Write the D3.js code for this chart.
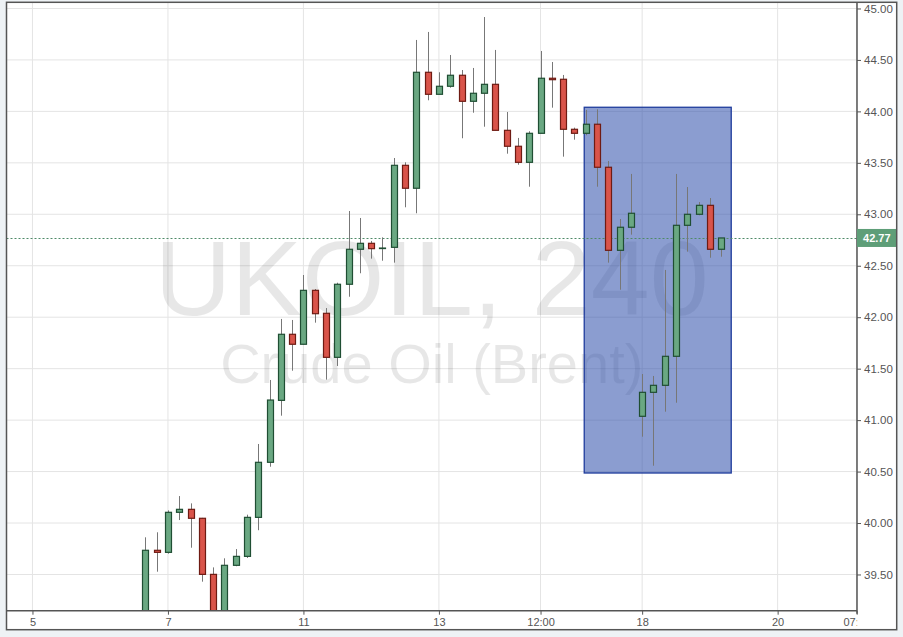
<!DOCTYPE html>
<html><head><meta charset="utf-8">
<script src="https://cdn.jsdelivr.net/npm/d3@7/dist/d3.min.js"></script>
<style>html,body{margin:0;padding:0;background:#eef2f5;}svg{display:block;font-family:"Liberation Sans",Arial,sans-serif;}</style>
</head><body><svg id="c" width="903" height="637"></svg>
<script>
// ---- data ----
const opens  = [39.00,39.735,39.715,40.104,40.133,40.046,39.501,39.05,39.589,39.676,40.055,40.590,41.192,41.834,41.737,42.261,42.038,41.610,42.320,42.660,42.718,42.672,42.679,43.476,43.253,44.380,44.166,44.244,44.351,44.098,44.176,44.263,43.816,43.661,43.505,43.787,44.322,44.312,43.826,43.787,43.875,43.457,42.650,42.874,41.037,41.270,41.338,41.620,42.893,43.000,43.087,42.660];
const highs  = [39.861,39.910,40.123,40.262,40.191,40.05,39.569,39.657,39.747,40.081,40.768,41.390,41.983,41.973,42.410,42.274,42.089,42.335,43.032,42.964,42.741,42.776,43.547,43.505,44.694,44.772,44.380,44.548,44.402,44.422,44.917,44.597,43.994,43.742,43.807,44.587,44.480,44.354,43.842,44.014,44.020,43.518,42.954,43.392,41.448,41.429,42.459,43.392,43.265,43.119,43.158,42.77];
const lows   = [38.95,39.527,39.702,40.029,39.760,39.430,38.9,39.0,39.58,39.66,39.93,40.547,41.043,41.480,41.737,41.947,41.393,41.526,42.199,42.427,42.569,42.549,42.530,43.068,43.010,44.108,44.166,44.230,43.739,43.987,43.851,43.816,43.589,43.482,43.268,43.787,44.036,43.560,43.725,43.768,43.268,42.530,42.267,42.802,40.839,40.557,41.082,41.169,42.637,42.990,42.578,42.588];
const closes = [39.735,39.715,40.104,40.133,40.046,39.501,39.00,39.589,39.676,40.055,40.590,41.195,41.834,41.737,42.261,42.034,41.610,42.320,42.660,42.718,42.666,42.672,43.476,43.253,44.380,44.166,44.244,44.351,44.098,44.176,44.263,43.816,43.661,43.505,43.787,44.322,44.308,43.826,43.787,43.875,43.457,42.650,42.874,43.010,41.270,41.338,41.620,42.893,43.000,43.087,42.660,42.77];
const xTickLabels = ["5","7","11","13","12:00","18","20","07:00"];
const xTickAt     = [-10, 2, 14, 26, 35, 44, 56, 63];   // candle slot of each label
const yTicks = [39.5,40,40.5,41,41.5,42,42.5,43,43.5,44,44.5,45];
const lastPrice = 42.77;
const boxX = [38.87, 51.89];      // highlighted zone, candle slots
const boxY = [40.486, 44.04];     // highlighted zone, prices
const title1 = "UKOIL, 240", title2 = "Crude Oil (Brent)";

// ---- layout ----
const L = 6.5, R = 857, T = 2.3, B = 610.7, FR = 896.7, FB = 629.7;
const svg = d3.select("#c");
const x = d3.scaleLinear().domain([-12.3, 63.03]).range([L, R]);
const y = d3.scaleLinear().domain([39.148, 45.06]).range([B, T]);
const step = x(1) - x(0);

svg.append("rect").attr("x",0).attr("y",0).attr("width",903).attr("height",637).attr("fill","#eef2f5");
svg.append("rect").attr("x",L).attr("y",T).attr("width",FR-L).attr("height",FB-T).attr("fill","#fff");

const defs = svg.append("defs");
defs.append("clipPath").attr("id","plot").append("rect").attr("x",L).attr("y",T).attr("width",R-L).attr("height",B-T);
defs.append("clipPath").attr("id","xlab").append("rect").attr("x",0).attr("y",B).attr("width",R).attr("height",30);

const g = svg.append("g").attr("clip-path","url(#plot)");
// grid
g.selectAll(".hg").data(yTicks).join("line").attr("x1",L).attr("x2",R)
  .attr("y1",d=>y(d)).attr("y2",d=>y(d)).attr("stroke","#e4e4e4").attr("stroke-width",1);
g.selectAll(".vg").data(xTickAt).join("line").attr("y1",T).attr("y2",B)
  .attr("x1",d=>x(d)).attr("x2",d=>x(d)).attr("stroke","#e4e4e4").attr("stroke-width",1);

// watermark
const cx = (L+R)/2;
g.append("text").attr("x",cx).attr("y",315).attr("text-anchor","middle").attr("font-size",106)
  .attr("fill","#000").attr("fill-opacity",0.095).text(title1);
g.append("text").attr("x",cx).attr("y",383).attr("text-anchor","middle").attr("font-size",56)
  .attr("fill","#000").attr("fill-opacity",0.095).text(title2);

// highlight box
g.append("rect").attr("x",x(boxX[0])).attr("y",y(boxY[1]))
  .attr("width",x(boxX[1])-x(boxX[0])).attr("height",y(boxY[0])-y(boxY[1]))
  .attr("fill","rgb(44,77,170)").attr("fill-opacity",0.55).attr("stroke","#1f3c9c").attr("stroke-width",1.3);

// last price line
g.append("line").attr("x1",L).attr("x2",R).attr("y1",Math.round(y(lastPrice))+0.5).attr("y2",Math.round(y(lastPrice))+0.5)
  .attr("stroke","#4f8a68").attr("stroke-width",1).attr("stroke-dasharray","2,2");

// candles
const candles = opens.map((o,i)=>({i,o,h:highs[i],l:lows[i],c:closes[i]}));
const cg = g.selectAll(".cd").data(candles).join("g");
cg.append("line").attr("x1",d=>Math.round(x(d.i))+0.5).attr("x2",d=>Math.round(x(d.i))+0.5)
  .attr("y1",d=>y(d.h)).attr("y2",d=>y(d.l)).attr("stroke","#777").attr("stroke-width",1);
const bw = 6;
cg.append("rect").attr("x",d=>Math.round(x(d.i))+0.5-bw/2).attr("width",bw)
  .attr("y",d=>y(Math.max(d.o,d.c))).attr("height",d=>Math.max(0.5,Math.abs(y(d.o)-y(d.c))))
  .attr("fill",d=>d.c>=d.o?"#6aa882":"#d9544a")
  .attr("stroke",d=>d.c>=d.o?"#1f4e33":"#6e1b13").attr("stroke-width",1.2);

// axes
const ax = svg.append("g").attr("transform",`translate(0,${B})`)
  .call(d3.axisBottom(x).tickValues(xTickAt).tickFormat((d,i)=>xTickLabels[i]).tickSize(4).tickPadding(4));
ax.select(".domain").remove();
ax.selectAll("line").attr("stroke","#555");
ax.selectAll("text").attr("fill","#555").attr("font-size",11).attr("font-family","'Liberation Sans',Arial,sans-serif");
ax.attr("clip-path","url(#xlab)");
// axis clip path is in svg coords; adjust
ax.attr("clip-path",null);
ax.selectAll(".tick").filter((d,i)=>i===xTickLabels.length-1).select("text").attr("clip-path","url(#xl2)");
defs.append("clipPath").attr("id","xl2").append("rect").attr("x",-40).attr("y",-5).attr("width",40).attr("height",30);

const ay = svg.append("g").attr("transform",`translate(${R},0)`)
  .call(d3.axisRight(y).tickValues(yTicks).tickFormat(d3.format(".2f")).tickSize(4).tickPadding(3));
ay.select(".domain").remove();
ay.selectAll("line").attr("stroke","#555");
ay.selectAll("text").attr("fill","#555").attr("font-size",11.5).attr("font-family","'Liberation Sans',Arial,sans-serif");

svg.append("line").attr("x1",L).attr("x2",R).attr("y1",B).attr("y2",B).attr("stroke","#555").attr("stroke-width",1.5);
svg.append("line").attr("x1",R).attr("x2",R).attr("y1",T).attr("y2",B+3).attr("stroke","#555").attr("stroke-width",1.5);

// price tag
const py = y(lastPrice);
svg.append("rect").attr("x",R).attr("y",py-9).attr("width",FR-R).attr("height",18).attr("fill","#5e9e78");
svg.append("text").attr("x",R+(FR-R)/2).attr("y",py+4).attr("text-anchor","middle").attr("fill","#fff")
  .attr("font-size",11).attr("font-weight","bold").text(lastPrice.toFixed(2));

// frame
svg.append("rect").attr("x",L).attr("y",T).attr("width",FR-L).attr("height",FB-T)
  .attr("fill","none").attr("stroke","#555").attr("stroke-width",1.5);
</script></body></html>
